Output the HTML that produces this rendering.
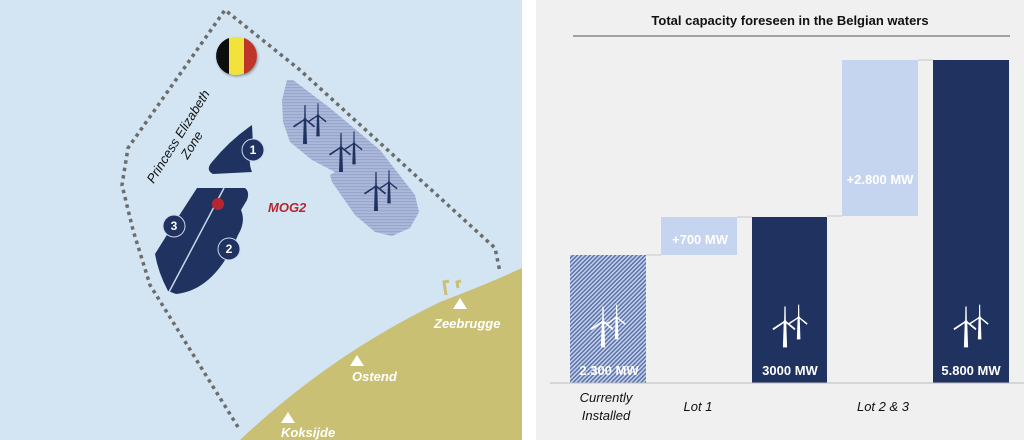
<!DOCTYPE html>
<html><head><meta charset="utf-8"><style>
html,body{margin:0;padding:0;background:#fff;}
svg{display:block}
text{font-family:"Liberation Sans",sans-serif;}
</style></head><body>
<svg width="1024" height="440" viewBox="0 0 1024 440" xmlns="http://www.w3.org/2000/svg">
<defs>
<pattern id="hs" width="4" height="3" patternUnits="userSpaceOnUse">
<rect width="4" height="3" fill="#adb9da"/><rect width="4" height="1.2" fill="#97a6cd"/>
</pattern>
<pattern id="dg" width="3" height="3" patternUnits="userSpaceOnUse" patternTransform="rotate(45)">
<rect width="3" height="3" fill="#c6d1ea"/><rect width="1.5" height="3" fill="#5a72aa"/>
</pattern>
<filter id="sh" x="-30%" y="-30%" width="160%" height="160%"><feDropShadow dx="1" dy="1.5" stdDeviation="1.2" flood-opacity="0.35"/></filter>
<g id="tb">
<polygon points="-1.2,0 1.2,0 2,24 -2,24"/>
<polygon points="-0.8,0 0.8,0 0.6,-15 -0.6,-15"/>
<polygon points="0,0 -1,-1 -12,6 -11,7.5"/>
<polygon points="0,0 1,-1 10,6 9,7.5"/>
<circle r="1.7"/>
</g>
<g id="tp"><use href="#tb" transform="translate(0,4)"/><use href="#tb" transform="translate(13,0) scale(0.85)"/></g>
</defs>
<!-- left map -->
<rect x="0" y="0" width="522" height="440" fill="#d3e5f2"/>
<path d="M240,440 Q330,355 440,302 Q485,285 522,268 L522,440 Z" fill="#c9c074"/>
<path d="M446,295 L444,282 L449,281 M458,288 L457,282 L461,281" stroke="#c9c074" stroke-width="3" fill="none"/>
<polyline points="238,427 150,285 133,230 122,185 128,148 225,10 300,70 495,248 500,272" fill="none" stroke="#6c6c6c" stroke-width="3.5" stroke-dasharray="3.5,4"/>
<path d="M287,80 L293,80 L330,108 L380,150 L415,195 L419,212 L410,228 L392,236 L375,232 L355,215 L332,182 L330,175 L335,172 L312,160 L290,142 L283,122 L282,100 Z" fill="url(#hs)"/>
<g fill="#1f3260"><use href="#tp" transform="translate(305,116)"/><use href="#tp" transform="translate(341,144)"/><use href="#tp" transform="translate(376,183)"/></g>
<g filter="url(#sh)">
<circle cx="236" cy="56" r="19" fill="#f2e23a"/>
<path d="M229,38 A19,19 0 0 0 229,74 Z" fill="#111"/>
<path d="M244,38 A19,19 0 0 1 244,74 Z" fill="#c0342b"/>
</g>
<path d="M252,125 L253,145 Q247,160 252,172 L213,174 Q205,170 212,162 Q230,140 252,125 Z" fill="#1f3260"/>
<path d="M197,188 L245,188 Q250,192 247,200 L241,210 Q246,222 238,235 Q215,290 176,294 L168,291 Q158,272 155,254 L175,222 Z" fill="#1f3260"/>
<line x1="224" y1="188" x2="169" y2="292" stroke="#c9d7ec" stroke-width="1.5"/>
<circle cx="218" cy="204" r="6" fill="#b52630"/>
<g stroke="#c9d7ec" stroke-width="1" fill="#1f3260"><circle cx="253" cy="150" r="11"/><circle cx="174" cy="226" r="11"/><circle cx="229" cy="249" r="11"/></g>
<g fill="#fff" font-weight="bold" font-size="12" text-anchor="middle"><text x="253" y="154">1</text><text x="174" y="230">3</text><text x="229" y="253">2</text></g>
<text x="268" y="212" fill="#b52630" font-style="italic" font-weight="bold" font-size="13">MOG2</text>
<g transform="translate(187,142) rotate(-58)" font-style="italic" font-size="13" fill="#111" text-anchor="middle"><text x="0" y="-6">Princess Elizabeth</text><text x="0" y="10">Zone</text></g>
<g fill="#fff"><polygon points="460,298 453,309 467,309"/><polygon points="357,355 350,366 364,366"/><polygon points="288,412 281,423 295,423"/></g>
<g fill="#fff" font-style="italic" font-weight="bold" font-size="13"><text x="434" y="328">Zeebrugge</text><text x="352" y="381">Ostend</text><text x="281" y="437">Koksijde</text></g>
<!-- chart -->
<rect x="536" y="0" width="488" height="440" fill="#f0f0f0"/>
<text x="790" y="25" text-anchor="middle" font-weight="bold" font-size="13" fill="#111">Total capacity foreseen in the Belgian waters</text>
<line x1="573" y1="36" x2="1010" y2="36" stroke="#555" stroke-width="1"/>
<g stroke="#c8c8c8" stroke-width="1"><line x1="646" y1="255" x2="661" y2="255"/><line x1="737" y1="217" x2="752" y2="217"/><line x1="827" y1="216" x2="842" y2="216"/><line x1="918" y1="60" x2="933" y2="60"/></g>
<rect x="570" y="255" width="76" height="128" fill="url(#dg)"/>
<rect x="661" y="217" width="76" height="38" fill="#c5d4ef"/>
<rect x="752" y="217" width="75" height="166" fill="#1f3260"/>
<rect x="842" y="60" width="76" height="156" fill="#c5d4ef"/>
<rect x="933" y="60" width="76" height="323" fill="#1f3260"/>
<line x1="550" y1="383" x2="1024" y2="383" stroke="#bbb" stroke-width="1"/>
<g fill="#fff"><use href="#tp" transform="translate(603,318) scale(1.05)"/><use href="#tp" transform="translate(785,318) scale(1.05)"/><use href="#tp" transform="translate(966,318) scale(1.05)"/></g>
<g fill="#fff" font-weight="bold" font-size="13" text-anchor="middle"><text x="609" y="375">2.300 MW</text><text x="790" y="375">3000 MW</text><text x="971" y="375">5.800 MW</text><text x="700" y="244">+700 MW</text><text x="880" y="184">+2.800 MW</text></g>
<g fill="#111" font-style="italic" font-size="13" text-anchor="middle"><text x="606" y="402">Currently</text><text x="606" y="420">Installed</text><text x="698" y="411">Lot 1</text><text x="883" y="411">Lot 2 &amp; 3</text></g>
</svg>
</body></html>
